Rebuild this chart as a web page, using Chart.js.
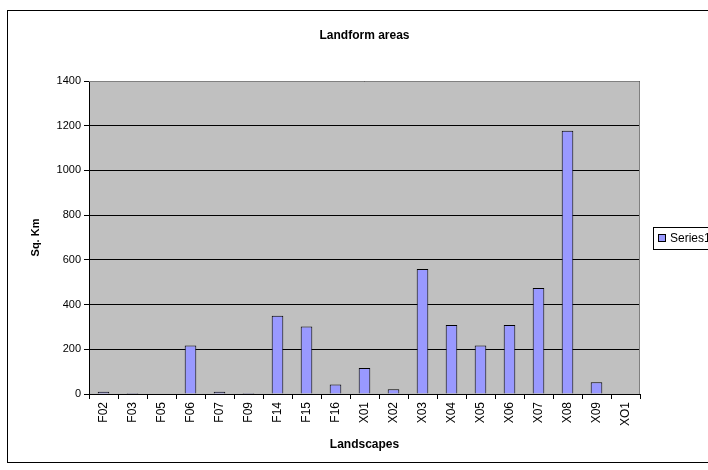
<!DOCTYPE html>
<html>
<head>
<meta charset="utf-8">
<script src="https://cdn.jsdelivr.net/npm/chart.js@4/dist/chart.umd.min.js"></script>
<style>
  html, body { margin: 0; padding: 0; background: #fff; }
  #wrap { width: 708px; height: 470px; }
</style>
</head>
<body>
<div id="wrap"><canvas id="chart" width="708" height="470"></canvas></div>
<script>
// landscapes on the x axis
const landscapes = ['F02', 'F03', 'F05', 'F06', 'F07', 'F09', 'F14', 'F15', 'F16',
  'X01', 'X02', 'X03', 'X04', 'X05', 'X06', 'X07', 'X08', 'X09', 'XO1'];
// area in sq. km
const areas = [10, 5, 0, 217, 10, 5, 350, 302, 42,
  116, 21, 559, 309, 217, 309, 474, 1177, 52, 0];
const seriesName = 'Series1';
const chartTitle = 'Landform areas';
const xTitle = 'Landscapes';
const yTitle = 'Sq. Km';

Chart.defaults.font.family = '"Liberation Sans", Arial, sans-serif';
Chart.defaults.color = '#000';

const excelLook = {
  id: 'excelLook',
  beforeDraw(chart) {
    const c = chart.ctx, a = chart.chartArea;
    c.save();
    c.fillStyle = '#fff';
    c.fillRect(0, 0, chart.width, chart.height);
    c.fillStyle = '#c0c0c0';
    c.fillRect(a.left, a.top, a.right - a.left, a.bottom - a.top);
    c.restore();
  },
  afterDraw(chart) {
    const c = chart.ctx, a = chart.chartArea;
    c.save();
    // plot frame top/right
    c.strokeStyle = '#808080';
    c.lineWidth = 1;
    c.beginPath();
    c.moveTo(a.left, a.top + 0.5);
    c.lineTo(a.right - 0.5, a.top + 0.5);
    c.lineTo(a.right - 0.5, a.bottom);
    c.stroke();
    // outer border
    c.strokeStyle = '#000';
    c.strokeRect(7.5, 10.5, 720, 452);
    // legend box (runs off the right edge like the original)
    const ds = chart.data.datasets[0];
    c.fillStyle = '#fff';
    c.fillRect(653, 227, 70, 22);
    c.strokeRect(653.5, 227.5, 70, 22);
    c.fillStyle = ds.backgroundColor;
    c.fillRect(658.5, 234.5, 7, 7);
    c.strokeRect(658.5, 234.5, 7, 7);
    c.fillStyle = '#000';
    c.font = '12px "Liberation Sans", Arial, sans-serif';
    c.textBaseline = 'middle';
    c.fillText(ds.label, 670, 239);
    c.restore();
  }
};

new Chart(document.getElementById('chart'), {
  type: 'bar',
  data: {
    labels: landscapes,
    datasets: [{
      label: seriesName,
      data: areas,
      backgroundColor: '#9999ff',
      borderColor: '#000',
      borderWidth: 1,
      categoryPercentage: 1,
      barPercentage: 0.4
    }]
  },
  options: {
    responsive: false,
    animation: false,
    layout: { padding: { left: 8, right: 68, top: 0, bottom: 8 } },
    plugins: {
      legend: { display: false },
      tooltip: { enabled: false },
      title: {
        display: true,
        text: chartTitle,
        fullSize: false,
        font: { size: 12, weight: 'bold' },
        padding: { top: 28, bottom: 38.6 }
      }
    },
    scales: {
      x: {
        afterFit: s => { s.height = 68; },
        grid: {
          offset: true,
          drawOnChartArea: false,
          drawTicks: true,
          tickLength: 5,
          color: '#000'
        },
        border: { color: '#000' },
        ticks: {
          minRotation: 90,
          maxRotation: 90,
          padding: 3,
          autoSkip: false,
          font: { size: 12 }
        },
        title: {
          display: true,
          text: xTitle,
          font: { size: 12, weight: 'bold' },
          padding: { top: 4, bottom: 10 }
        }
      },
      y: {
        min: 0,
        max: 1400,
        afterFit: s => { s.width = 81; },
        grid: { color: '#000', tickLength: 5 },
        border: { color: '#000' },
        ticks: {
          stepSize: 200,
          padding: 3,
          font: { size: 11 },
          callback: v => String(v)
        },
        title: {
          display: true,
          text: yTitle,
          font: { size: 11, weight: 'bold' },
          padding: { top: 21, bottom: 4 }
        }
      }
    }
  },
  plugins: [excelLook]
});
</script>
</body>
</html>
